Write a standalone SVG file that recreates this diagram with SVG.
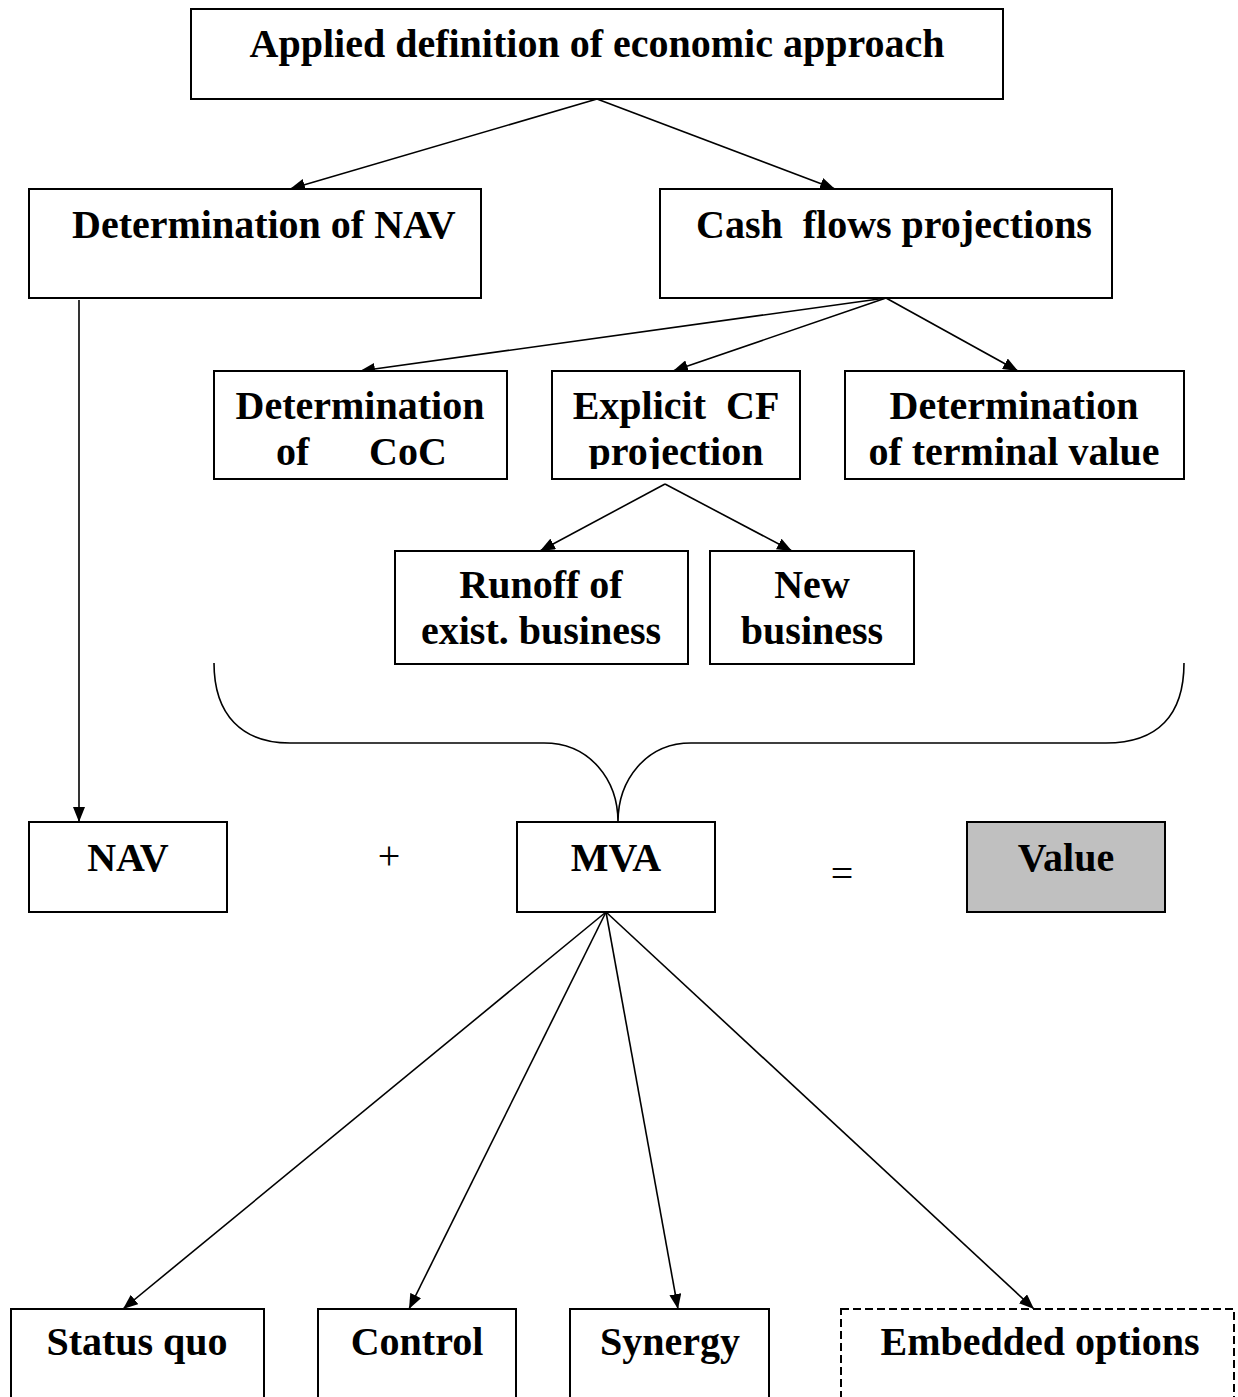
<svg xmlns="http://www.w3.org/2000/svg" width="1238" height="1397" viewBox="0 0 1238 1397">
<style>
.box{fill:#fff;stroke:#000;stroke-width:2}
.grey{fill:#c0c0c0}
.dash{stroke-dasharray:8 4}
.t{font-family:"Liberation Serif","Times New Roman",serif;font-weight:bold;font-size:40px;fill:#000}
.c{text-anchor:middle}
.op{font-family:"Liberation Serif","Times New Roman",serif;font-size:40px;fill:#000;text-anchor:middle}
.ln{fill:none;stroke:#000;stroke-width:1.6}
</style>
<defs>
<marker id="ah" markerUnits="userSpaceOnUse" markerWidth="16" markerHeight="12" refX="15" refY="6" orient="auto">
<path d="M0,0 L15,6 L0,12 z" fill="#000"/>
</marker>
<clipPath id="clipExp"><rect x="552" y="371" width="248" height="98"/></clipPath>
</defs>
<rect width="1238" height="1397" fill="#fff"/>

<g id="connectors">
<path class="ln" d="M597,99 L290,189" marker-end="url(#ah)"/>
<path class="ln" d="M597,99 L835,189" marker-end="url(#ah)"/>
<path class="ln" d="M79,300 L79,822" marker-end="url(#ah)"/>
<path class="ln" d="M886,298 L360,371" marker-end="url(#ah)"/>
<path class="ln" d="M886,298 L673,371" marker-end="url(#ah)"/>
<path class="ln" d="M886,298 L1018,371" marker-end="url(#ah)"/>
<path class="ln" d="M665,484 L540,551" marker-end="url(#ah)"/>
<path class="ln" d="M665,484 L792,551" marker-end="url(#ah)"/>
<path class="ln" d="M606,912 L123,1309" marker-end="url(#ah)"/>
<path class="ln" d="M606,912 L409,1309" marker-end="url(#ah)"/>
<path class="ln" d="M606,912 L678,1309" marker-end="url(#ah)"/>
<path class="ln" d="M606,912 L1034,1309" marker-end="url(#ah)"/>
<path id="brace" class="ln" d="M214,663 C214,715 242,743 290,743 L544,743 C590,743 618,780 618,822 C618,780 646,743 691,743 L1106,743 C1158,743 1184,715 1184,663"/>
</g>

<g id="node-approach">
<rect class="box" x="191" y="9" width="812" height="90"/>
<text class="t c" x="597" y="57">Applied definition of economic approach</text>
</g>
<g id="node-nav-det">
<rect class="box" x="29" y="189" width="452" height="109"/>
<text class="t" x="72" y="238">Determination of NAV</text>
</g>
<g id="node-cashflows">
<rect class="box" x="660" y="189" width="452" height="109"/>
<text class="t" x="696" y="238" xml:space="preserve">Cash  flows projections</text>
</g>
<g id="node-coc">
<rect class="box" x="214" y="371" width="293" height="108"/>
<text class="t c" x="360" y="419">Determination</text>
<text class="t"><tspan x="276" y="465">of</tspan><tspan x="369" y="465">CoC</tspan></text>
</g>
<g id="node-explicit">
<rect class="box" x="552" y="371" width="248" height="108"/>
<text class="t c" x="676" y="419" xml:space="preserve">Explicit  CF</text>
<text class="t c" x="676" y="465" clip-path="url(#clipExp)">projection</text>
</g>
<g id="node-terminal">
<rect class="box" x="845" y="371" width="339" height="108"/>
<text class="t c" x="1014" y="419">Determination</text>
<text class="t c" x="1014" y="465">of terminal value</text>
</g>
<g id="node-runoff">
<rect class="box" x="395" y="551" width="293" height="113"/>
<text class="t c" x="541" y="598">Runoff of</text>
<text class="t c" x="541" y="644">exist. business</text>
</g>
<g id="node-new">
<rect class="box" x="710" y="551" width="204" height="113"/>
<text class="t c" x="812" y="598">New</text>
<text class="t c" x="812" y="644">business</text>
</g>
<g id="node-nav">
<rect class="box" x="29" y="822" width="198" height="90"/>
<text class="t c" x="128" y="871">NAV</text>
</g>
<g id="op-plus"><text class="op" x="389" y="869">+</text></g>
<g id="node-mva">
<rect class="box" x="517" y="822" width="198" height="90"/>
<text class="t c" x="616" y="871">MVA</text>
</g>
<g id="op-eq"><text class="op" x="842" y="887">=</text></g>
<g id="node-value">
<rect class="box grey" x="967" y="822" width="198" height="90"/>
<text class="t c" x="1066" y="871">Value</text>
</g>
<g id="node-status">
<rect class="box" x="11" y="1309" width="253" height="120"/>
<text class="t c" x="137" y="1355">Status quo</text>
</g>
<g id="node-control">
<rect class="box" x="318" y="1309" width="198" height="120"/>
<text class="t c" x="417" y="1355">Control</text>
</g>
<g id="node-synergy">
<rect class="box" x="570" y="1309" width="199" height="120"/>
<text class="t c" x="670" y="1355">Synergy</text>
</g>
<g id="node-embedded">
<rect class="box dash" x="841" y="1309" width="393" height="120"/>
<text class="t c" x="1040" y="1355">Embedded options</text>
</g>
</svg>
